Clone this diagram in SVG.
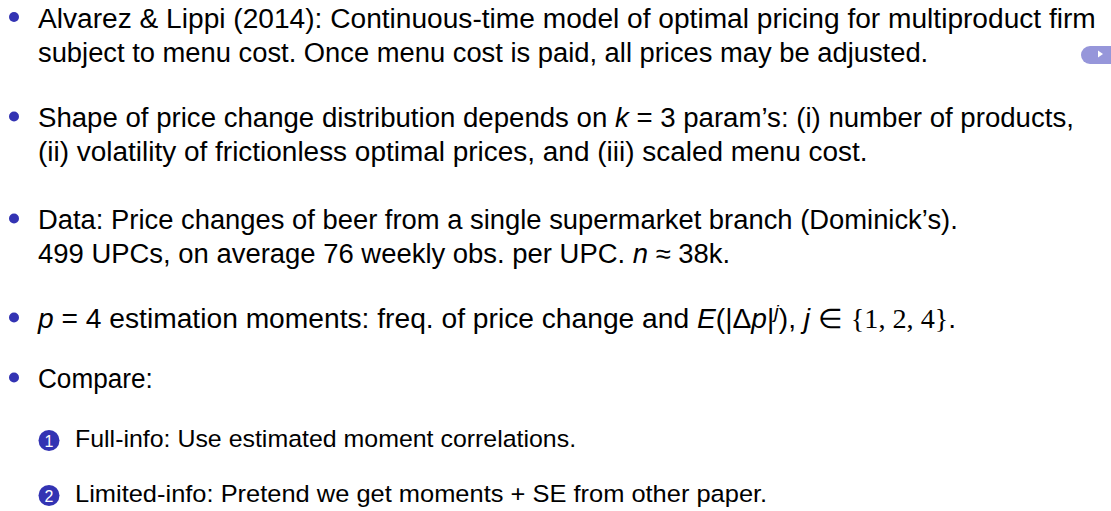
<svg xmlns="http://www.w3.org/2000/svg" width="1111" height="511" viewBox="0 0 1111 511">
<style>
  .t { font-family: "Liberation Sans", Arial, sans-serif; font-size: 27px; fill: #000; }
  .s { font-family: "Liberation Sans", Arial, sans-serif; font-size: 24.5px; fill: #000; }
  .i { font-style: italic; }
  .m { font-family: "Liberation Serif", "Times New Roman", serif; }
  .b { fill: #3333b3; }
  .n { font-family: "Liberation Sans", Arial, sans-serif; font-size: 16px; fill: #fff; text-anchor: middle; }
</style>
<rect width="1111" height="511" fill="#fff"/>
<g id="item-alvarez-lippi">
  <circle class="b" cx="14" cy="17" r="5"/>
  <text class="t" x="38" y="27.5" textLength="1057.8" lengthAdjust="spacingAndGlyphs">Alvarez &amp; Lippi (2014): Continuous-time model of optimal pricing for multiproduct firm</text>
  <text class="t" x="38" y="61.5" textLength="890.2" lengthAdjust="spacingAndGlyphs">subject to menu cost. Once menu cost is paid, all prices may be adjusted.</text>
</g>
<g id="goto-button">
  <rect x="1081" y="46" width="45" height="18" rx="9" fill="#9696da"/>
  <polygon points="1098,50.5 1098,57.5 1103,54" fill="#fff"/>
</g>
<g id="item-shape">
  <circle class="b" cx="14" cy="116.5" r="5"/>
  <text class="t" x="38" y="127" textLength="1035.9" lengthAdjust="spacingAndGlyphs">Shape of price change distribution depends on <tspan class="i">k</tspan> = 3 param’s: (i) number of products,</text>
  <text class="t" x="38" y="161" textLength="829.5" lengthAdjust="spacingAndGlyphs">(ii) volatility of frictionless optimal prices, and (iii) scaled menu cost.</text>
</g>
<g id="item-data">
  <circle class="b" cx="14" cy="218.5" r="5"/>
  <text class="t" x="38" y="229" textLength="919.8" lengthAdjust="spacingAndGlyphs">Data: Price changes of beer from a single supermarket branch (Dominick’s).</text>
  <text class="t" x="38" y="263" textLength="692.2" lengthAdjust="spacingAndGlyphs">499 UPCs, on average 76 weekly obs. per UPC. <tspan class="i">n</tspan> ≈ 38k.</text>
</g>
<g id="item-moments">
  <circle class="b" cx="14" cy="317.5" r="5"/>
  <text class="t" x="38" y="328" textLength="918.2" lengthAdjust="spacingAndGlyphs"><tspan class="i">p</tspan> = 4 estimation moments: freq. of price change and <tspan class="i">E</tspan>(|Δ<tspan class="i">p</tspan>|<tspan class="i" font-size="19" dy="-10">j</tspan><tspan dy="10">), </tspan><tspan class="i">j</tspan> ∈ <tspan class="m">{1, 2, 4}</tspan>.</text>
</g>
<g id="item-compare">
  <circle class="b" cx="14" cy="377.5" r="5"/>
  <text class="t" x="38" y="388" textLength="114.7" lengthAdjust="spacingAndGlyphs">Compare:</text>
</g>
<g id="sub-full-info">
  <circle class="b" cx="49" cy="440.5" r="10.5"/>
  <text class="n" x="49" y="446.5">1</text>
  <text class="s" x="75" y="447" textLength="501.1" lengthAdjust="spacingAndGlyphs">Full-info: Use estimated moment correlations.</text>
</g>
<g id="sub-limited-info">
  <circle class="b" cx="49" cy="495.5" r="10.5"/>
  <text class="n" x="49" y="501.5">2</text>
  <text class="s" x="75" y="502" textLength="692.2" lengthAdjust="spacingAndGlyphs">Limited-info: Pretend we get moments + SE from other paper.</text>
</g>
</svg>
